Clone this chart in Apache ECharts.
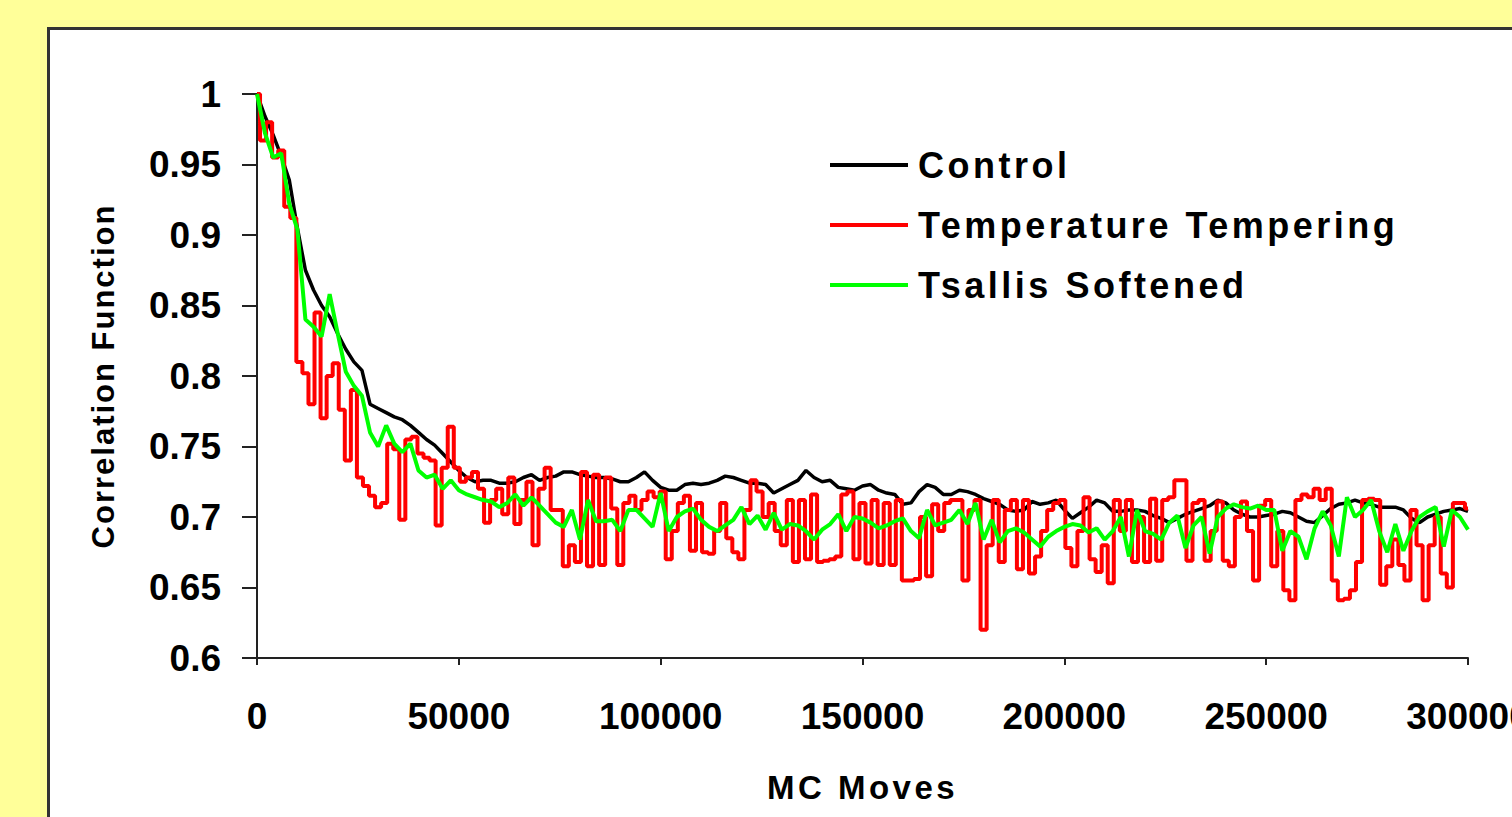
<!DOCTYPE html>
<html>
<head>
<meta charset="utf-8">
<title>Correlation Function vs MC Moves</title>
<script src="https://cdn.jsdelivr.net/npm/echarts@6/dist/echarts.min.js"></script>
<style>
  html, body { margin: 0; padding: 0; background: #ffff99; }
  #chart { width: 1512px; height: 817px; }
  /* 图例和轴标题的字距较宽 */
  #chart text[style*="sans-serif"] { letter-spacing: 3.5px; }
  #chart text[style*="Helvetica"] { letter-spacing: 2px; }
</style>
</head>
<body>
<div id="chart"></div>
<script>
// x 轴采样间隔（MC 步数）
const controlStep = 2000
const temperingStep = 1500
const tsallisStep = 2000

const xTicks = [0, 50000, 100000, 150000, 200000, 250000, 300000]
const yTicks = [0.6, 0.65, 0.7, 0.75, 0.8, 0.85, 0.9, 0.95, 1]

const legendNames = ['Control', 'Temperature Tempering', 'Tsallis Softened']

// Control
const controlCorr = [
  1.000, 0.984, 0.971, 0.956, 0.939, 0.905, 0.875, 0.861, 0.850, 0.842,
  0.830, 0.819, 0.810, 0.804, 0.780, 0.777, 0.774, 0.771, 0.769, 0.765,
  0.760, 0.755, 0.751, 0.745, 0.739, 0.733, 0.728, 0.725, 0.726, 0.726,
  0.724, 0.724, 0.725, 0.728, 0.730, 0.726, 0.728, 0.729, 0.732, 0.732,
  0.730, 0.729, 0.728, 0.728, 0.727, 0.725, 0.725, 0.728, 0.732, 0.726,
  0.721, 0.719, 0.719, 0.723, 0.724, 0.723, 0.724, 0.726, 0.729, 0.728,
  0.726, 0.724, 0.724, 0.723, 0.717, 0.720, 0.723, 0.726, 0.733, 0.728,
  0.725, 0.726, 0.721, 0.720, 0.719, 0.722, 0.723, 0.719, 0.717, 0.716,
  0.709, 0.710, 0.718, 0.723, 0.721, 0.716, 0.716, 0.719, 0.718, 0.716,
  0.713, 0.711, 0.709, 0.705, 0.704, 0.705, 0.711, 0.709, 0.710, 0.712,
  0.705, 0.699, 0.703, 0.707, 0.712, 0.710, 0.704, 0.704, 0.705, 0.705,
  0.704, 0.701, 0.699, 0.696, 0.699, 0.702, 0.704, 0.706, 0.708, 0.712,
  0.710, 0.705, 0.702, 0.700, 0.700, 0.701, 0.702, 0.704, 0.703, 0.700,
  0.697, 0.696, 0.701, 0.706, 0.709, 0.710, 0.712, 0.710, 0.709, 0.707,
  0.707, 0.707, 0.705, 0.699, 0.696, 0.700, 0.702, 0.704, 0.705, 0.706, 0.704
]

// Temperature Tempering
const temperingCorr = [
  1.000, 0.967, 0.980, 0.955, 0.960, 0.920, 0.912, 0.810, 0.802, 0.780,
  0.845, 0.770, 0.800, 0.809, 0.776, 0.740, 0.790, 0.728, 0.722, 0.715,
  0.707, 0.710, 0.752, 0.748, 0.698, 0.755, 0.757, 0.745, 0.742, 0.740,
  0.694, 0.735, 0.764, 0.735, 0.725, 0.728, 0.732, 0.720, 0.696, 0.712,
  0.720, 0.702, 0.728, 0.695, 0.712, 0.725, 0.680, 0.720, 0.735, 0.705,
  0.705, 0.665, 0.680, 0.668, 0.732, 0.665, 0.730, 0.666, 0.728, 0.706,
  0.666, 0.710, 0.715, 0.705, 0.712, 0.718, 0.714, 0.718, 0.670, 0.690,
  0.710, 0.715, 0.676, 0.710, 0.675, 0.674, 0.690, 0.710, 0.685, 0.675,
  0.670, 0.705, 0.726, 0.718, 0.700, 0.710, 0.690, 0.680, 0.712, 0.668,
  0.712, 0.670, 0.716, 0.668, 0.669, 0.670, 0.672, 0.716, 0.718, 0.670,
  0.710, 0.667, 0.712, 0.666, 0.710, 0.666, 0.712, 0.655, 0.655, 0.656,
  0.700, 0.658, 0.709, 0.690, 0.710, 0.712, 0.712, 0.655, 0.705, 0.712,
  0.620, 0.680, 0.712, 0.668, 0.705, 0.712, 0.663, 0.712, 0.660, 0.672,
  0.690, 0.705, 0.710, 0.712, 0.678, 0.665, 0.690, 0.714, 0.670, 0.661,
  0.680, 0.653, 0.712, 0.690, 0.712, 0.668, 0.700, 0.668, 0.713, 0.669,
  0.712, 0.714, 0.726, 0.726, 0.669, 0.710, 0.712, 0.669, 0.690, 0.711,
  0.669, 0.665, 0.700, 0.711, 0.690, 0.655, 0.708, 0.712, 0.665, 0.690,
  0.648, 0.641, 0.712, 0.716, 0.714, 0.720, 0.712, 0.720, 0.655, 0.641,
  0.642, 0.648, 0.668, 0.712, 0.713, 0.712, 0.652, 0.665, 0.684, 0.666,
  0.655, 0.705, 0.680, 0.641, 0.680, 0.700, 0.660, 0.650, 0.710, 0.710,
  0.706
]

// Tsallis Softened
const tsallisCorr = [
  1.000, 0.972, 0.955, 0.958, 0.922, 0.904, 0.840, 0.835, 0.828, 0.858,
  0.830, 0.803, 0.793, 0.786, 0.760, 0.750, 0.765, 0.752, 0.746, 0.752,
  0.733, 0.728, 0.730, 0.720, 0.726, 0.719, 0.716, 0.714, 0.712, 0.711,
  0.707, 0.710, 0.716, 0.708, 0.714, 0.708, 0.702, 0.696, 0.693, 0.705,
  0.684, 0.712, 0.697, 0.697, 0.698, 0.690, 0.705, 0.705, 0.699, 0.693,
  0.717, 0.690, 0.700, 0.704, 0.706, 0.698, 0.693, 0.690, 0.694, 0.698,
  0.707, 0.695, 0.701, 0.691, 0.703, 0.691, 0.695, 0.694, 0.690, 0.684,
  0.691, 0.695, 0.702, 0.690, 0.700, 0.699, 0.696, 0.692, 0.694, 0.697,
  0.699, 0.690, 0.685, 0.705, 0.694, 0.696, 0.698, 0.705, 0.695, 0.710,
  0.684, 0.698, 0.682, 0.690, 0.692, 0.689, 0.684, 0.679, 0.686, 0.690,
  0.693, 0.695, 0.694, 0.689, 0.692, 0.684, 0.690, 0.700, 0.672, 0.705,
  0.690, 0.688, 0.684, 0.696, 0.701, 0.678, 0.694, 0.700, 0.674, 0.700,
  0.706, 0.709, 0.707, 0.706, 0.708, 0.705, 0.705, 0.676, 0.690, 0.686,
  0.670, 0.692, 0.704, 0.694, 0.672, 0.714, 0.700, 0.705, 0.712, 0.690,
  0.675, 0.695, 0.676, 0.690, 0.700, 0.704, 0.707, 0.679, 0.705, 0.700, 0.691
]

// 组合成 [x, y]
function toPairs(values, step) {
  return values.map((v, i) => [i * step, v])
}

const labelFont = "'Liberation Sans', Arial"
const spacedFont = "'Liberation Sans', Arial, sans-serif"
const yNameFont = "'Liberation Sans', Arial, Helvetica"

const chart = echarts.init(document.getElementById('chart'), null, { renderer: 'svg' })

chart.setOption({
  animation: false,
  backgroundColor: '#ffff99',
  // 白色绘图区外框
  graphic: [
    {
      type: 'rect',
      left: 47,
      top: 27,
      silent: true,
      z: -10,
      shape: { width: 1520, height: 850 },
      style: { fill: '#ffffff', stroke: '#333333', lineWidth: 3 }
    }
  ],
  grid: {
    left: 257, right: 44, top: 94, bottom: 159,
    containLabel: false,
    outerBoundsMode: 'none'
  },
  legend: {
    data: legendNames,
    orient: 'vertical',
    left: 825,
    top: 142,
    itemWidth: 78,
    itemHeight: 4,
    itemGap: 24,
    icon: 'rect',
    textStyle: {
      fontFamily: spacedFont,
      fontWeight: 'bold',
      fontSize: 36,
      color: '#000',
      padding: [0, 0, 0, 5]
    }
  },
  xAxis: {
    type: 'value',
    min: xTicks[0],
    max: xTicks[xTicks.length - 1],
    interval: xTicks[1] - xTicks[0],
    name: 'MC Moves',
    nameLocation: 'middle',
    nameGap: 113,
    nameTextStyle: { fontFamily: spacedFont, fontWeight: 'bold', fontSize: 33, color: '#000' },
    splitLine: { show: false },
    axisLine: { show: true, lineStyle: { color: '#222', width: 2 } },
    axisTick: { show: true, inside: false, length: 7, lineStyle: { color: '#222', width: 2 } },
    axisLabel: {
      margin: 40,
      fontFamily: labelFont,
      fontWeight: 'bold',
      fontSize: 37,
      color: '#000',
      formatter: v => String(v)
    }
  },
  yAxis: {
    type: 'value',
    min: yTicks[0],
    max: yTicks[yTicks.length - 1],
    interval: 0.05,
    name: 'Correlation Function',
    nameLocation: 'middle',
    nameGap: 138,
    nameTextStyle: { fontFamily: yNameFont, fontWeight: 'bold', fontSize: 31, color: '#000' },
    splitLine: { show: false },
    axisLine: { show: true, lineStyle: { color: '#222', width: 2 } },
    axisTick: { show: true, inside: false, length: 15, lineStyle: { color: '#222', width: 2 } },
    axisLabel: {
      margin: 36,
      fontFamily: labelFont,
      fontWeight: 'bold',
      fontSize: 37,
      color: '#000',
      formatter: v => String(parseFloat(v.toFixed(2)))
    }
  },
  series: [
    {
      name: legendNames[0],
      type: 'line',
      showSymbol: false,
      data: toPairs(controlCorr, controlStep),
      color: '#000000',
      lineStyle: { width: 3.5 }
    },
    {
      name: legendNames[1],
      type: 'line',
      showSymbol: false,
      step: 'middle',
      data: toPairs(temperingCorr, temperingStep),
      color: '#ff0000',
      lineStyle: { width: 4 }
    },
    {
      name: legendNames[2],
      type: 'line',
      showSymbol: false,
      data: toPairs(tsallisCorr, tsallisStep),
      color: '#00ff00',
      lineStyle: { width: 4 }
    }
  ]
})
</script>
</body>
</html>
